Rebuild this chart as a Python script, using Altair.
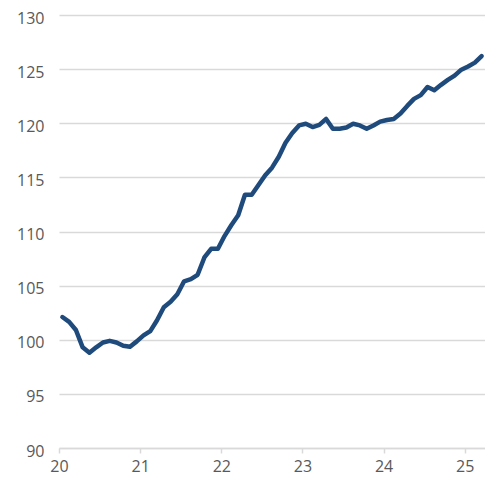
import altair as alt
import pandas as pd

values = [
    102.1, 101.65, 100.9, 99.3, 98.8, 99.3, 99.75, 99.9, 99.75, 99.45, 99.35, 99.85,
    100.4, 100.8, 101.8, 103.0, 103.5, 104.2, 105.4, 105.6, 106.0, 107.6, 108.4, 108.4,
    109.6, 110.6, 111.5, 113.4, 113.4, 114.3, 115.2, 115.9, 116.9, 118.2, 119.1, 119.8,
    119.95, 119.65, 119.85, 120.4, 119.5, 119.5, 119.6, 119.95, 119.8, 119.5, 119.8, 120.15,
    120.3, 120.4, 120.9, 121.6, 122.25, 122.6, 123.35, 123.05, 123.55, 124.0, 124.4, 124.95,
    125.25, 125.6, 126.2,
]
start_year = 20
x_ticks = [20, 21, 22, 23, 24, 25]
y_ticks = [90, 95, 100, 105, 110, 115, 120, 125, 130]

df = pd.DataFrame({
    "t": [start_year + (i + 0.5) / 12 for i in range(len(values))],
    "v": values,
})

chart = alt.Chart(df).mark_line(
    color="#1f4a7c", strokeWidth=4.5, strokeJoin="round", strokeCap="round"
).encode(
    x=alt.X("t:Q", scale=alt.Scale(domain=[20, 25.25], nice=False, zero=False),
            axis=alt.Axis(values=x_ticks, format="d", title=None, grid=False,
                          domain=True, domainColor="#d9d9d9", domainWidth=1.5,
                          ticks=True, tickColor="#d9d9d9", tickSize=5, tickWidth=1.5,
                          labelPadding=5, labelColor="#595959", labelFontSize=16,
                          labelFont="Open Sans", labelFlush=False)),
    y=alt.Y("v:Q", scale=alt.Scale(domain=[90, 130], nice=False, zero=False),
            axis=alt.Axis(values=y_ticks, title=None, grid=True, gridColor="#d9d9d9",
                          gridWidth=1.5, domain=False, ticks=False, labelPadding=15,
                          labelColor="#595959", labelFontSize=16, labelFont="Open Sans",
                          labelOffset=3)),
).properties(
    width=426, height=433,
    autosize=alt.AutoSizeParams(type="none"),
    padding={"left": 51, "top": 7, "right": 0, "bottom": 30},
).configure_view(stroke=None)

chart.save("out.html", embed_options={"renderer": "svg", "actions": False})
